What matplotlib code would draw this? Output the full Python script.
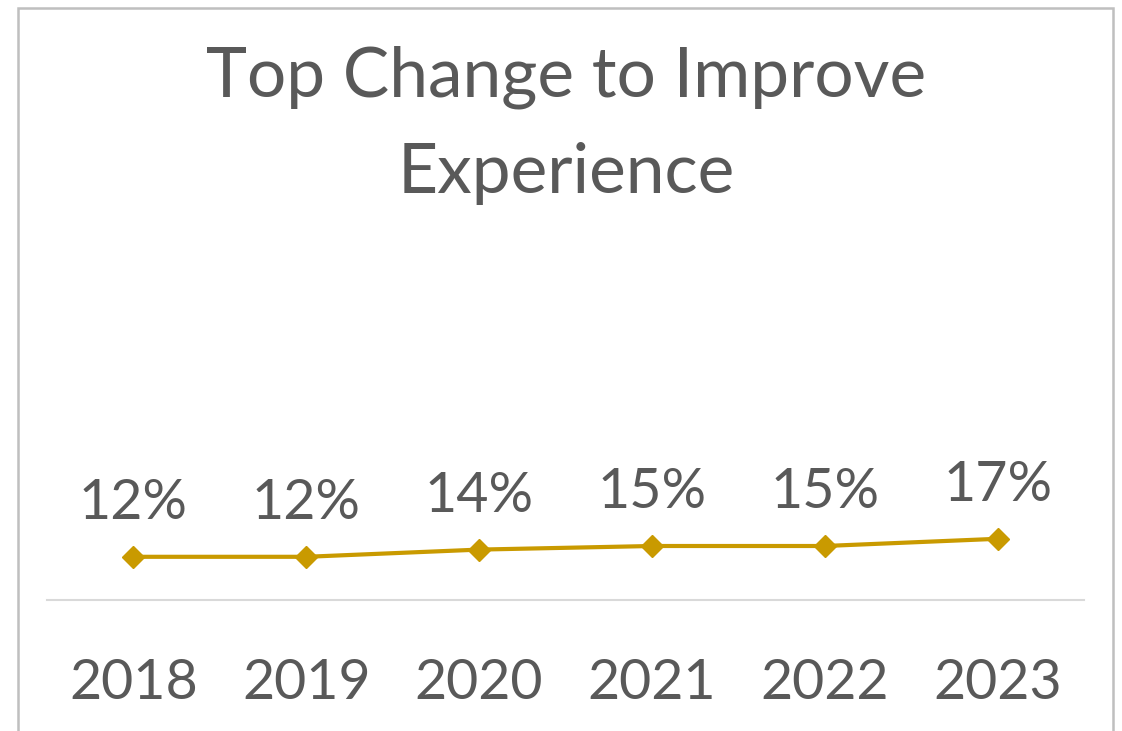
import matplotlib
matplotlib.use("Agg")
import matplotlib.pyplot as plt
from matplotlib.patches import Rectangle

plt.rcParams["font.family"] = ["Lato", "DejaVu Sans"]

# Chart data
years = ["2018", "2019", "2020", "2021", "2022", "2023"]
shares = [0.12, 0.12, 0.14, 0.15, 0.15, 0.17]
title = "Top Change to Improve\nExperience"

TEXT = "#595959"
GOLD = "#C99A00"
GRID = "#D9D9D9"
BORDER = "#BFBFBF"

W, H = 1122, 731
fig = plt.figure(figsize=(W / 100, H / 100), dpi=100)

# Chart frame (px -> figure fraction)
fig.patches.append(Rectangle((18 / W, -0.05), (1113 - 18) / W, 1.05 - 8 / H,
                             transform=fig.transFigure, fill=False,
                             edgecolor=BORDER, lw=1.8))

ax = fig.add_axes([47 / W, (H - 600) / H, (1084 - 47) / W, 360 / H])
x = list(range(len(years)))
ax.plot(x, shares, color=GOLD, lw=3, marker="D", markersize=11,
        solid_capstyle="round", zorder=3)

for xi, v in zip(x, shares):
    ax.annotate(f"{v:.0%}", (xi, v), xytext=(0, 20), textcoords="offset points",
                ha="center", va="bottom", fontsize=40, color=TEXT)

ax.set_xlim(-0.5, len(years) - 0.5)
ax.set_ylim(0, 1)
ax.set_xticks(x)
ax.set_xticklabels(years, fontsize=40, color=TEXT)
ax.set_yticks([])
ax.tick_params(axis="x", length=0, pad=42)
for s in ["top", "left", "right"]:
    ax.spines[s].set_visible(False)
ax.spines["bottom"].set_color(GRID)
ax.spines["bottom"].set_linewidth(1.5)

fig.text(566 / W, 1 - 125 / H, title, ha="center", va="center",
         fontsize=50, color=TEXT, linespacing=1.65)

fig.savefig("out.png", dpi=100)
